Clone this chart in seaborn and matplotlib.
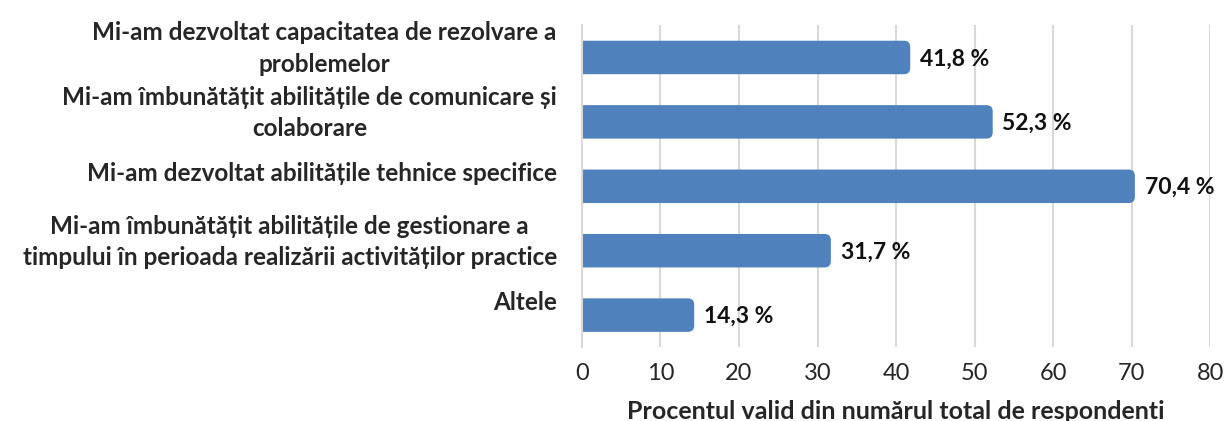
import numpy as np
import pandas as pd
import matplotlib
matplotlib.use('Agg')
import matplotlib.pyplot as plt
import matplotlib.transforms as mtrans
from matplotlib.patches import FancyBboxPatch
import seaborn as sns

sns.set_style('white')
plt.rcParams['font.family'] = ['Lato', 'DejaVu Sans']

categories = ['Mi-am dezvoltat capacitatea de rezolvare a\nproblemelor',
              'Mi-am îmbunătățit abilitățile de comunicare și\ncolaborare',
              'Mi-am dezvoltat abilitățile tehnice specifice',
              'Mi-am îmbunătățit abilitățile de gestionare a\ntimpului în perioada realizării activităților practice',
              'Altele']
values = [41.8, 52.3, 70.4, 31.7, 14.3]
value_labels = ['41,8 %', '52,3 %', '70,4 %', '31,7 %', '14,3 %']
xticks = [0, 10, 20, 30, 40, 50, 60, 70, 80]

data = pd.DataFrame({'cat': categories, 'val': values})
bar_color = '#4F81BD'

fig = plt.figure(figsize=(12.25, 4.21), dpi=100)
ax = fig.add_axes([0.475, 0.175, 0.513, 0.765])

sns.barplot(data=data, x='val', y='cat', orient='h', color=bar_color,
            width=0.52, saturation=1, ax=ax)

ax.set_xlim(0, 80)
ax.set_xticks(xticks)
ax.set_xticklabels([str(t) for t in xticks], fontsize=17)
ax.tick_params(axis='x', length=0, pad=11)
ax.tick_params(axis='y', length=0, pad=18)
ax.grid(axis='x', color='#D9D9D9', linewidth=1.5)
ax.set_axisbelow(True)
for s in ['top', 'right', 'bottom']:
    ax.spines[s].set_visible(False)
ax.spines['left'].set_color('#D9D9D9')
ax.spines['left'].set_linewidth(1.5)

# rounded right ends on the bars
fig.canvas.draw()
p0 = ax.transData.transform((0, 0))
p1 = ax.transData.transform((1, 1))
aspect = abs((p1[0] - p0[0]) / (p1[1] - p0[1]))
for patch in list(ax.patches):
    x, y = patch.get_x(), patch.get_y()
    w, h = patch.get_width(), patch.get_height()
    patch.remove()
    r = 0.8
    fb = FancyBboxPatch((x - 2 * r, y), w + 2 * r, h,
                        boxstyle='round,pad=0,rounding_size=%f' % r,
                        mutation_aspect=aspect,
                        facecolor=bar_color, edgecolor='none')
    ax.add_patch(fb)

for i, (v, lab) in enumerate(zip(values, value_labels)):
    ax.annotate(lab, (v, i), xytext=(7, -1), textcoords='offset points',
                ha='left', va='center', fontsize=16.5, fontweight='bold',
                color='#111111')

for lab in ax.get_yticklabels():
    lab.set_fontsize(17.5)
    lab.set_fontweight('bold')
    lab.set_multialignment('center')
    lab.set_linespacing(1.45)
    lab.set_transform(lab.get_transform() +
                      mtrans.ScaledTranslation(0, 0.15, fig.dpi_scale_trans))

ax.set_ylabel('')
ax.set_xlabel('Procentul valid din numărul total de respondenti',
              fontsize=18, fontweight='bold', labelpad=12)

fig.savefig('out.png', dpi=100)
